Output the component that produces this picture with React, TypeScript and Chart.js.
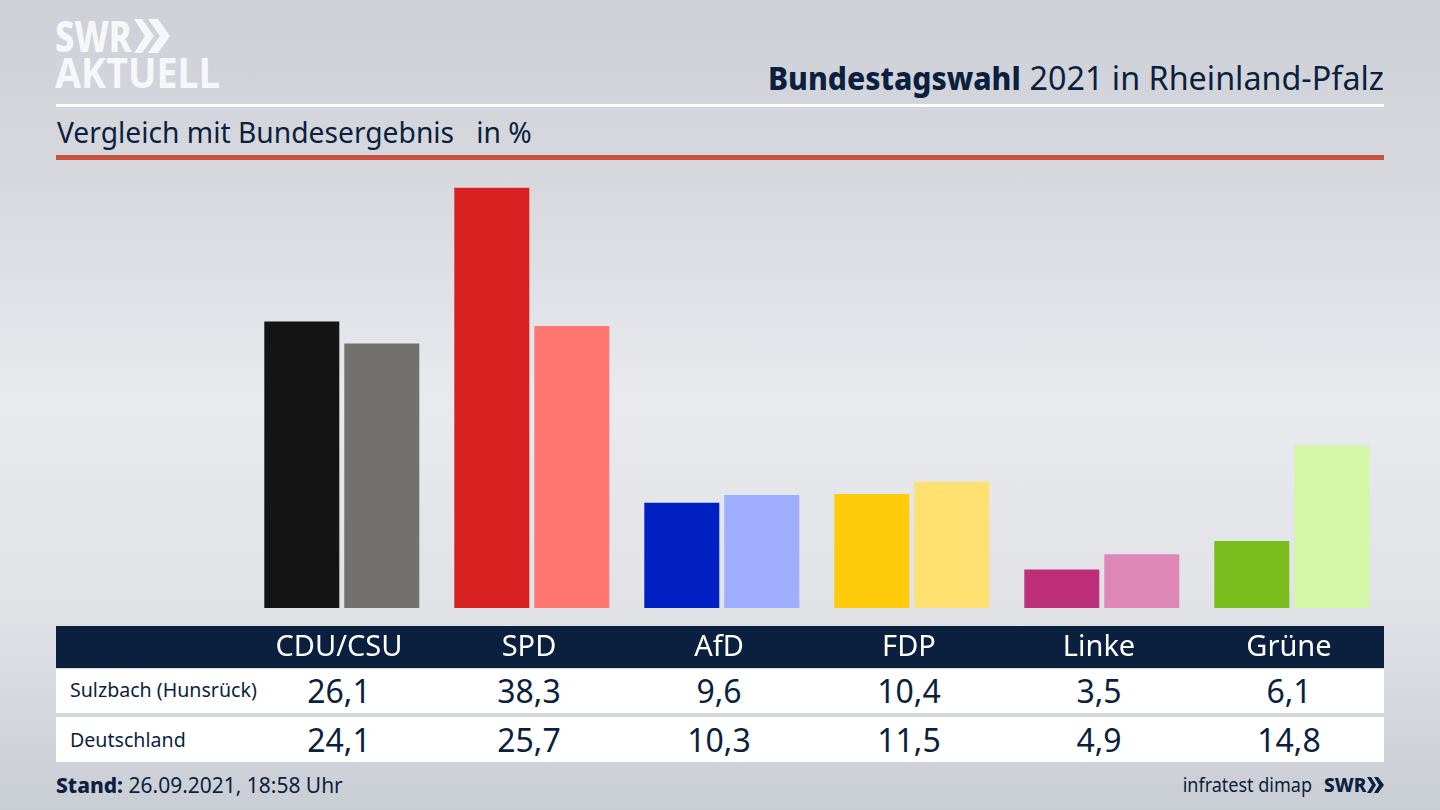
import React, { useEffect, useRef } from "react";
import { Chart, registerables } from "chart.js";

Chart.register(...registerables);

const parties = ["CDU/CSU", "SPD", "AfD", "FDP", "Linke", "Grüne"];
const localName = "Sulzbach (Hunsrück)";
const nationalName = "Deutschland";
const localValues = [26.1, 38.3, 9.6, 10.4, 3.5, 6.1];
const nationalValues = [24.1, 25.7, 10.3, 11.5, 4.9, 14.8];
const localColors = ["#141414", "#d7201f", "#0020c4", "#ffcb0a", "#bd2f78", "#79bd1c"];
const nationalColors = ["#73716e", "#ff7570", "#9faeff", "#ffe070", "#df88b8", "#d3f7a7"];

const NAVY = "#0b1f3f";
const FONT = '"Noto Sans", sans-serif';
const fmt = (v: number) => v.toFixed(1).replace(".", ",");

const abs = (left: number, top: number, width: number, height: number, background: string): React.CSSProperties => ({
  position: "absolute", left, top, width, height, background,
});

function Text(props: { x: number; y: number; size: number; weight?: number; color?: string; align?: "left" | "right" | "center"; children: React.ReactNode; sx?: number }) {
  const { x, y, size, weight = 400, color = NAVY, align = "left", children, sx = 1 } = props;
  const tx = align === "left" ? "0" : align === "right" ? "-100%" : "-50%";
  const origin = align === "left" ? "left" : align === "right" ? "right" : "center";
  return (
    <div style={{
      position: "absolute", left: x, top: y, fontFamily: FONT, fontSize: size, fontWeight: weight, color,
      whiteSpace: "pre", lineHeight: 1, transform: `translate(${tx},-50%) scaleX(${sx})`, transformOrigin: origin,
    }}>{children}</div>
  );
}

export default function App() {
  const ref = useRef<HTMLCanvasElement>(null);
  useEffect(() => {
    const chart = new Chart(ref.current!, {
      type: "bar",
      data: {
        labels: parties,
        datasets: [
          { label: localName, data: localValues, backgroundColor: localColors, categoryPercentage: 160 / 190, barPercentage: 75 / 80 },
          { label: nationalName, data: nationalValues, backgroundColor: nationalColors, categoryPercentage: 160 / 190, barPercentage: 75 / 80 },
        ],
      },
      options: {
        animation: false,
        responsive: false,
        devicePixelRatio: 1,
        layout: { padding: { left: 246.8, right: 53.2, top: 168, bottom: 142 } },
        plugins: { legend: { display: false }, tooltip: { enabled: false } },
        scales: {
          x: {
            grid: { display: false, drawTicks: false },
            border: { display: false },
            afterFit: (s: any) => { s.height = 60; },
            ticks: {
              color: "#ffffff",
              font: { family: "Noto Sans", size: 29 },
              padding: 22,
              labelOffset: -2.8,
              maxRotation: 0,
              autoSkip: false,
            },
          },
          y: { display: false, min: 0, max: 40.1 },
        },
      },
    });
    return () => chart.destroy();
  }, []);

  const centers = parties.map((_, i) => 339 + i * 190);
  return (
    <div style={{
      position: "fixed", left: 0, top: 0, width: 1440, height: 810, overflow: "hidden",
      background: "linear-gradient(180deg,#cdd0d6 0px,#d6d8de 170px,#e9eaee 400px,#e0e2e6 610px,#c9cdd4 810px)",
    }}>
      {/* logo */}
      <Text x={55} y={36} size={42} weight={800} color="#f6f7f8" sx={0.82}>SWR</Text>
      <svg style={{ position: "absolute", left: 134, top: 19 }} width={38} height={34}>
        <polygon points="0,0 8,0 20,17 8,34 0,34 11,17" fill="#f6f7f8" />
        <polygon points="14,0 24,0 36,17 24,34 14,34 26,17" fill="#f6f7f8" />
      </svg>
      <Text x={55} y={72} size={41} weight={700} color="#f6f7f8" sx={0.92}>AKTUELL</Text>

      {/* headings */}
      <Text x={768} y={78} size={32} weight={800} sx={0.94}>Bundestagswahl</Text>
      <Text x={1384} y={78} size={32} align="right" sx={1.009}>2021 in Rheinland-Pfalz</Text>
      <div style={abs(56, 104, 1328, 3, "#ffffff")} />
      <Text x={57} y={131} size={29} sx={0.973}>{"Vergleich mit Bundesergebnis   in %"}</Text>
      <div style={abs(56, 155, 1328, 5, "#c9513f")} />

      {/* table */}
      <div style={abs(56, 626, 1328, 42, NAVY)} />
      <div style={abs(56, 669, 1328, 44, "#ffffff")} />
      <div style={abs(56, 717, 1328, 45, "#ffffff")} />
      <Text x={70} y={690} size={20} sx={0.98}>{localName}</Text>
      <Text x={70} y={740} size={20} sx={0.98}>{nationalName}</Text>
      {centers.map((c, i) => (
        <React.Fragment key={parties[i]}>
          <Text x={c} y={691} size={32} align="center">{fmt(localValues[i])}</Text>
          <Text x={c} y={740} size={32} align="center">{fmt(nationalValues[i])}</Text>
        </React.Fragment>
      ))}

      {/* footer */}
      <Text x={56} y={784} size={22} sx={0.953}><span style={{ fontWeight: 800 }}>Stand:</span> 26.09.2021, 18:58 Uhr</Text>
      <Text x={1312} y={785} size={20} align="right" sx={0.9}>infratest dimap</Text>
      <Text x={1324} y={785} size={20} weight={800} sx={0.95}>SWR</Text>
      <svg style={{ position: "absolute", left: 1367, top: 777 }} width={18} height={16}>
        <polygon points="0,0 4,0 9,8 4,16 0,16 5,8" fill={NAVY} />
        <polygon points="7,0 11,0 17,8 11,16 7,16 12,8" fill={NAVY} />
      </svg>

      <canvas ref={ref} width={1440} height={810} style={{ position: "absolute", left: 0, top: 0, width: 1440, height: 810 }} />
    </div>
  );
}
